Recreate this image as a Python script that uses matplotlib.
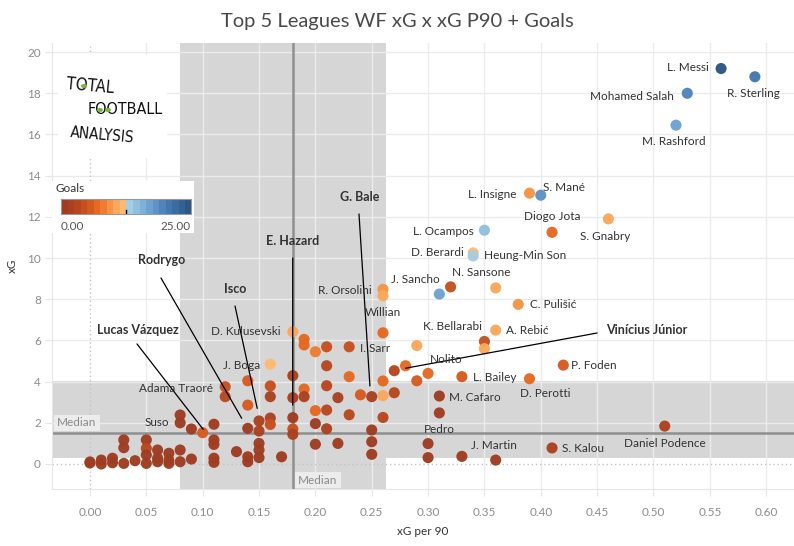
import numpy as np
import matplotlib
matplotlib.use("Agg")
import matplotlib.pyplot as plt
from matplotlib.colors import LinearSegmentedColormap, ListedColormap, BoundaryNorm
from matplotlib.patches import Rectangle, Circle

# ---------------- data ----------------
players = [
    "L. Messi", "R. Sterling", "Mohamed Salah", "M. Rashford", "S. Mané", "L. Insigne",
    "Diogo Jota", "S. Gnabry", "L. Ocampos", "D. Berardi", "Heung-Min Son", "J. Sancho",
    "N. Sansone", "", "C. Pulišić", "K. Bellarabi", "", "A. Rebić", "", "Vinícius Júnior",
    "Nolito", "", "", "", "L. Bailey", "D. Perotti", "P. Foden", "M. Cafaro", "", "Pedro",
    "", "", "J. Martin", "S. Kalou", "Daniel Podence", "R. Orsolini", "", "Willian", "", "",
    "", "G. Bale", "", "", "", "", "I. Sarr", "", "", "", "", "", "", "", "", "", "", "", "",
    "", "", "", "", "", "D. Kulusevski", "", "", "", "", "", "", "J. Boga", "", "", "", "",
    "", "", "", "", "", "", "", "", "", "", "", "Adama Traoré", "", "", "", "", "", "",
    "Lucas Vázquez", "", "", "", "Suso", "", "", "", "", "", "", "", "", "", "", "", "", "",
    "", "", "", "", "", "", "", "",
]
xg_p90 = [
    0.56, 0.59, 0.53, 0.52, 0.40, 0.39,
    0.41, 0.46, 0.35, 0.34, 0.34, 0.31,
    0.32, 0.36, 0.38, 0.35, 0.35, 0.36, 0.29, 0.28,
    0.30, 0.29, 0.27, 0.27, 0.33, 0.39, 0.42, 0.31, 0.31, 0.30,
    0.30, 0.33, 0.36, 0.41, 0.51, 0.26, 0.26, 0.26, 0.26, 0.26,
    0.26, 0.25, 0.25, 0.25, 0.25, 0.24, 0.23, 0.23, 0.23, 0.22, 0.22, 0.21, 0.21, 0.21, 0.21,
    0.21, 0.20, 0.20, 0.20, 0.20, 0.19, 0.19, 0.19, 0.19, 0.18, 0.18, 0.18, 0.18, 0.18, 0.18,
    0.17, 0.16, 0.16, 0.16, 0.16, 0.16, 0.15, 0.15, 0.15, 0.15, 0.15, 0.14, 0.14, 0.14, 0.14,
    0.14, 0.13, 0.12, 0.12, 0.11, 0.11, 0.11, 0.11, 0.11, 0.10, 0.09, 0.09, 0.08, 0.08, 0.08,
    0.08, 0.07, 0.07, 0.07, 0.06, 0.06, 0.06, 0.05, 0.05, 0.05, 0.05, 0.04, 0.03, 0.03, 0.03,
    0.02, 0.02, 0.01, 0.01, 0.00, 0.00,
]
xg = [
    19.2, 18.8, 18.0, 16.45, 13.05, 13.15,
    11.25, 11.9, 11.35, 10.25, 10.1, 8.25,
    8.6, 8.55, 7.75, 5.95, 5.6, 6.5, 5.75, 4.77,
    4.4, 4.04, 4.53, 3.46, 4.24, 4.14, 4.8, 3.3, 2.48, 0.99,
    0.31, 0.37, 0.19, 0.78, 1.84, 8.48, 8.17, 6.37, 4.03, 3.32,
    2.26, 3.27, 1.65, 1.08, 0.47, 3.36, 5.69, 4.24, 2.39, 3.22, 1.0, 5.69, 4.77, 3.8, 2.62,
    1.71, 5.45, 2.59, 1.96, 0.96, 6.05, 5.78, 3.64, 3.27, 6.42, 4.29, 3.22, 2.25, 1.70, 1.44,
    0.35, 4.85, 3.79, 3.27, 2.23, 1.92, 2.09, 1.6, 1.0, 0.68, 0.31, 4.04, 2.86, 1.73, 0.35,
    0.11, 0.60, 3.75, 3.27, 1.93, 1.17, 0.95, 0.28, 0.08, 1.52, 1.70, 0.24, 2.38, 2.0, 0.68,
    0.11, 0.52, 0.19, 0.03, 0.68, 0.28, 0.11, 1.17, 0.76, 0.44, 0.03, 0.16, 1.17, 0.79, 0.03,
    0.28, 0.06, 0.19, 0.0, 0.05, 0.10,
]
goals = [
    25, 20, 19, 17, 18, 9,
    7, 11, 14, 12, 13, 17,
    4, 11, 9, 4, 11, 11, 10, 7,
    7, 6, 3, 3, 6, 7, 6, 1, 1, 1,
    1, 1, 1, 2, 2, 9, 10, 7, 7, 10,
    3, 2, 1, 1, 1, 5, 4, 7, 3, 2, 1, 4, 3, 3, 3,
    2, 8, 7, 1, 1, 7, 7, 7, 2, 10, 2, 2, 1, 4, 2,
    1, 12, 4, 2, 2, 4, 2, 2, 1, 1, 1, 6, 6, 1, 1,
    1, 1, 4, 3, 1, 1, 1, 1, 1, 5, 1, 1, 1, 1, 1,
    1, 1, 1, 1, 1, 1, 1, 1, 3, 1, 1, 1, 1, 1, 1,
    1, 1, 1, 1, 0, 0,
]

median_xg_p90 = 0.18
median_xg = 1.5
band_xg_p90 = (0.08, 0.263)
band_xg = (0.28, 4.03)

x_ticks = [0.00, 0.05, 0.10, 0.15, 0.20, 0.25, 0.30, 0.35, 0.40, 0.45, 0.50, 0.55, 0.60]
y_ticks = [0, 2, 4, 6, 8, 10, 12, 14, 16, 18, 20]

# ---------------- style ----------------
W, H = 794, 546
FONT = ["Lato", "DejaVu Sans"]
plt.rcParams["font.family"] = FONT

def fx(px):
    return px / W

def fy(py):
    return 1 - py / H

orange = LinearSegmentedColormap.from_list(
    "o", ["#9e3d22", "#b3451f", "#d0551f", "#eb6f22", "#f7994a", "#fdbb72"])
blue = LinearSegmentedColormap.from_list(
    "b", ["#a5cde5", "#82b4da", "#6399cb", "#4a7eb5", "#3a6b9f", "#2a5783"])
steps = [orange(i / 9) for i in range(10)] + [blue(i / 9) for i in range(10)]
cmap = ListedColormap(steps)
norm = BoundaryNorm(np.linspace(0, 25, 21), 20)

fig = plt.figure(figsize=(W / 100, H / 100), dpi=100)
ax = fig.add_axes([fx(52), fy(489), fx(794) - fx(52), fy(43) - fy(489)])
ax.set_xlim(-0.0337, 0.6247)
ax.set_ylim(-1.214, 20.44)

# bands
ax.axvspan(*band_xg_p90, color="#d6d6d6", zorder=0.2, lw=0)
ax.axhspan(*band_xg, color="#d6d6d6", zorder=0.2, lw=0)

# grid
for t in x_ticks[1:]:
    ax.axvline(t, color="#ebebeb", lw=1, zorder=0.5)
for t in y_ticks[1:]:
    ax.axhline(t, color="#ebebeb", lw=1, zorder=0.5)
ax.axvline(0, color="#c4c4c4", lw=1, ls=(0, (1, 2)), zorder=0.6)
ax.axhline(0, color="#c4c4c4", lw=1, ls=(0, (1, 2)), zorder=0.6)

# median lines
ax.axvline(median_xg_p90, color="#8f8f8f", lw=1.8, zorder=1)
ax.axhline(median_xg, color="#8f8f8f", lw=1.8, zorder=1)

for s in ["top", "right"]:
    ax.spines[s].set_visible(False)
for s in ["left", "bottom"]:
    ax.spines[s].set_color("#e6e6e6")

ax.set_xticks(x_ticks)
ax.set_xticklabels([f"{t:.2f}" for t in x_ticks])
ax.set_yticks(y_ticks)
ax.set_yticklabels([str(t) for t in y_ticks])
ax.tick_params(axis="both", colors="#e6e6e6", labelcolor="#8c8c8c", labelsize=8.5, length=5)
ax.tick_params(axis="x", pad=8)
ax.tick_params(axis="y", pad=3)
ax.set_xlabel("xG per 90", fontsize=8.5, color="#333333", labelpad=6)
ax.set_ylabel("xG", fontsize=8.5, color="#333333", labelpad=7)

# points
ax.scatter(xg_p90, xg, c=goals, cmap=cmap, norm=norm, s=64, linewidths=0,
           zorder=3, alpha=0.97)

# labels (pixel offsets from point)
offsets = {
    "L. Messi": (-33, 1), "R. Sterling": (-1, -17), "Mohamed Salah": (-55, -3),
    "M. Rashford": (-2, -16), "S. Mané": (23, 8), "L. Insigne": (-37, -1),
    "Diogo Jota": (0, 16), "S. Gnabry": (-3, -18), "L. Ocampos": (-41, -1),
    "D. Berardi": (-36, 0), "Heung-Min Son": (52, 0), "J. Sancho": (-24, 15),
    "N. Sansone": (31, 14), "C. Pulišić": (35, 0), "K. Bellarabi": (-32, 15),
    "A. Rebić": (32, 0), "Nolito": (18, 14), "L. Bailey": (33, -1),
    "D. Perotti": (16, -15), "P. Foden": (31, 0), "M. Cafaro": (36, -1),
    "Pedro": (11, 14), "J. Martin": (-2, 15), "S. Kalou": (31, -1),
    "Daniel Podence": (0, -17), "R. Orsolini": (-38, -1), "Willian": (0, 20),
    "I. Sarr": (26, -2), "D. Kulusevski": (-47, 0), "J. Boga": (-29, -1),
    "Adama Traoré": (-49, -2), "Suso": (-23, 0),
}
for name, x, y in zip(players, xg_p90, xg):
    if name in offsets:
        dx, dy = offsets[name]
        ax.annotate(name, (x, y), xytext=(dx, dy), textcoords="offset pixels",
                    ha="center", va="center", fontsize=8.5, color="#333333", zorder=5)

# callouts: label position, line start, line end (data coords)
callouts = {
    "G. Bale": ((0.2396, 12.94), (0.2387, 12.14), (0.2484, 3.79)),
    "E. Hazard": ((0.1801, 10.83), (0.1799, 10.0), (0.1799, 2.86)),
    "Rodrygo": ((0.0639, 9.90), (0.063, 9.03), (0.1346, 2.22)),
    "Isco": ((0.1287, 8.50), (0.1287, 7.67), (0.1484, 2.70)),
    "Lucas Vázquez": ((0.0426, 6.50), (0.0417, 5.83), (0.1005, 1.68)),
    "Vinícius Júnior": ((0.494, 6.50), (0.45, 6.36), (0.2801, 4.65)),
}
for name, (lp, a, b) in callouts.items():
    ax.annotate("", xy=b, xytext=a,
                arrowprops=dict(arrowstyle="-", color="black", lw=0.9, shrinkA=0, shrinkB=0),
                zorder=4)
    ax.text(*lp, name, ha="center", va="center", fontsize=9, fontweight="bold",
            color="#333333", zorder=5)

# median labels
fig.text(fx(77), fy(423), "Median", ha="center", va="center", fontsize=8.5, color="#8a8a8a",
         bbox=dict(boxstyle="square,pad=0.25", fc="#ececec", ec="none"), zorder=6)
fig.text(fx(318), fy(480), "Median", ha="center", va="center", fontsize=8.5, color="#8a8a8a",
         bbox=dict(boxstyle="square,pad=0.25", fc="#ececec", ec="none"), zorder=6)

# title
fig.text(0.5, fy(22), "Top 5 Leagues WF xG x xG P90 + Goals", ha="center", va="center",
         fontsize=14.5, color="#4a4a4a", fontweight="normal")

# logo box
fig.patches.append(Rectangle((fx(58), fy(158)), fx(167) - fx(58), fy(55) - fy(158),
                             transform=fig.transFigure, fc="white", ec="none", zorder=2))
logo_font = "DejaVu Sans"
fig.text(fx(90), fy(86), "TOTAL", ha="center", va="center", fontsize=12, rotation=-5,
         family=logo_font, fontstretch="condensed", fontweight="light", color="#111111", zorder=3)
fig.text(fx(125), fy(109), "FOOTBALL", ha="center", va="center", fontsize=11.5,
         family=logo_font, fontstretch="condensed", fontweight="light", color="#111111", zorder=3)
fig.text(fx(102), fy(135), "ANALYSIS", ha="center", va="center", fontsize=11, rotation=-5,
         family=logo_font, fontstretch="condensed", fontweight="light", color="#111111", zorder=3)
for cx, cy in [(84, 86), (100, 110), (108, 110)]:
    fig.patches.append(Circle((fx(cx), fy(cy)), 3.0 / W, transform=fig.transFigure,
                              fc="#7db544", ec="none", zorder=4))

# colour legend
fig.patches.append(Rectangle((fx(52), fy(233)), fx(194) - fx(52), fy(181) - fy(233),
                             transform=fig.transFigure, fc="white", ec="none", zorder=2))
fig.text(fx(56), fy(189), "Goals", ha="left", va="center", fontsize=8.5, color="#333333", zorder=3)
cax = fig.add_axes([fx(61), fy(214), fx(191) - fx(61), fy(199) - fy(214)], zorder=4)
cax.imshow(np.arange(20).reshape(1, -1), cmap=cmap, aspect="auto")
cax.set_xticks([])
cax.set_yticks([])
for s in cax.spines.values():
    s.set_color("#999999")
cax.plot([9.5, 9.5], [0.2, 0.5], color="black", lw=1)
fig.text(fx(61), fy(226), "0.00", ha="left", va="center", fontsize=8.5, color="#555555", zorder=3)
fig.text(fx(191), fy(226), "25.00", ha="right", va="center", fontsize=8.5, color="#555555", zorder=3)

fig.savefig("out.png", dpi=100)
